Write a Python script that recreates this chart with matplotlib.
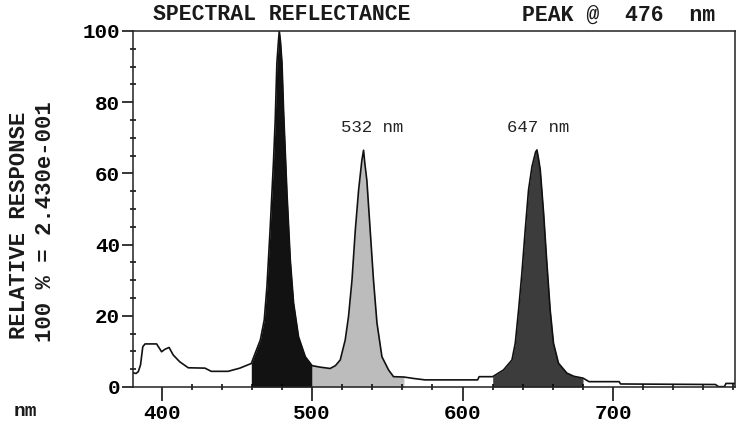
import matplotlib.pyplot as plt
from matplotlib.ticker import MultipleLocator
import numpy as np

# spectrum (nm, relative response in %)
wavelength = [381, 383, 384.5, 386, 387.5, 389, 396.7, 400, 402.2, 405, 407.7,
              412, 417.7, 428.8, 433, 444.2, 452, 459.6, 462.2, 465.6, 468.2,
              470, 472.2, 474.4, 475.5, 476.6, 477.7, 478.2, 479, 480, 481.1,
              483.3, 485.5, 487.7, 491, 495.5, 500, 505, 512, 515.5, 518.7,
              522, 524.2, 526.5, 528.7, 530.9, 533.1, 534.2, 535, 536.4, 538.6,
              540.8, 543.1, 546.4, 550.8, 554.1, 561, 567.4, 575, 610, 611,
              620, 627.2, 632.8, 635, 637.2, 639.4, 641.6, 643.8, 646.1, 648.5,
              649.4, 650.5, 651.6, 653.8, 656, 658.2, 660.4, 663.7, 669.3, 674,
              680, 684, 704, 705, 768, 770, 774, 775, 781]
response = [4.0, 3.8, 4.3, 6.2, 11.3, 12.1, 12.1, 9.9, 10.6, 11.1, 9.0,
            7.1, 5.4, 5.3, 4.4, 4.4, 5.3, 6.6, 9.5, 13.2, 18.8,
            28.2, 45, 63.8, 75, 91, 97.5, 100, 97, 91, 77,
            54.5, 35.7, 23.6, 14.1, 8.5, 6.0, 5.6, 5.2, 6.0, 7.6,
            13.2, 19.8, 30, 44, 55.3, 63.8, 66.5, 63, 58, 44,
            30, 18, 8.5, 4.8, 2.9, 2.8, 2.4, 2.0, 2.0, 2.9,
            2.9, 4.8, 7.6, 12.3, 21.6, 32, 44, 55.3, 61.9, 66,
            66.6, 64, 61, 49, 34.8, 21.6, 12.3, 6.7, 3.9, 3.0,
            2.5, 1.5, 1.5, 0.85, 0.7, 0.1, 0.1, 1.0, 1.0]

# shaded bands (nm) and their fills
bands = [(459.6, 500), (500, 561), (620, 680)]
band_colors = ['#121212', '#bcbcbc', '#3c3c3c']

peak_labels = ['532 nm', '647 nm']
peak_label_x = [540, 650]

W, H = 737, 429
fig = plt.figure(figsize=(W / 100, H / 100), dpi=100)
ax = fig.add_axes([133 / W, 1 - 387 / H, 602 / W, 356 / H])

x = np.array(wavelength)
y = np.array(response)
for (lo, hi), c in zip(bands, band_colors):
    m = (x >= lo) & (x <= hi)
    ax.fill_between(x, 0, y, where=m, color=c, lw=0)
ax.plot(x, y, color='#111111', lw=1.2)

for s, px in zip(peak_labels, peak_label_x):
    ax.text(px, 72.8, s, ha='center', va='center', fontsize=12.5,
            family='Liberation Mono', color='#222222')

ax.set_xlim(381, 781)
ax.set_ylim(0, 100)
ax.xaxis.set_major_locator(MultipleLocator(100))
ax.xaxis.set_minor_locator(MultipleLocator(20))
ax.yaxis.set_major_locator(MultipleLocator(20))
ax.yaxis.set_minor_locator(MultipleLocator(5))
ax.tick_params(which='major', direction='out', length=8, width=1.1,
               labelsize=15, pad=1.5)
ax.tick_params(which='minor', direction='inout', length=5, width=1.1)
ax.tick_params(axis='x', which='major', length=10, pad=2)
for lab in ax.get_xticklabels() + ax.get_yticklabels():
    lab.set_family('Liberation Mono')
    lab.set_fontweight('bold')
for sp in ax.spines.values():
    sp.set_linewidth(1.1)
    sp.set_color('#222222')

bold = dict(family='Liberation Mono', fontweight='bold', color='#1a1a1a')
fig.text(153 / W, 1 - 15 / H, 'SPECTRAL REFLECTANCE', ha='left', va='center',
         fontsize=15.5, **bold)
fig.text(522 / W, 1 - 15 / H, 'PEAK @  476  nm', ha='left', va='center',
         fontsize=15.5, **bold)
fig.text(20 / W, 1 - 225 / H, 'RELATIVE RESPONSE', rotation=90, ha='center',
         va='center', fontsize=16, **bold)
fig.text(46 / W, 1 - 222 / H, '100 % = 2.430e-001', rotation=90, ha='center',
         va='center', fontsize=16, **bold)
fig.text(25 / W, 1 - 412 / H, 'nm', ha='center', va='center', fontsize=14, **bold)

plt.savefig('out.png', dpi=100)
